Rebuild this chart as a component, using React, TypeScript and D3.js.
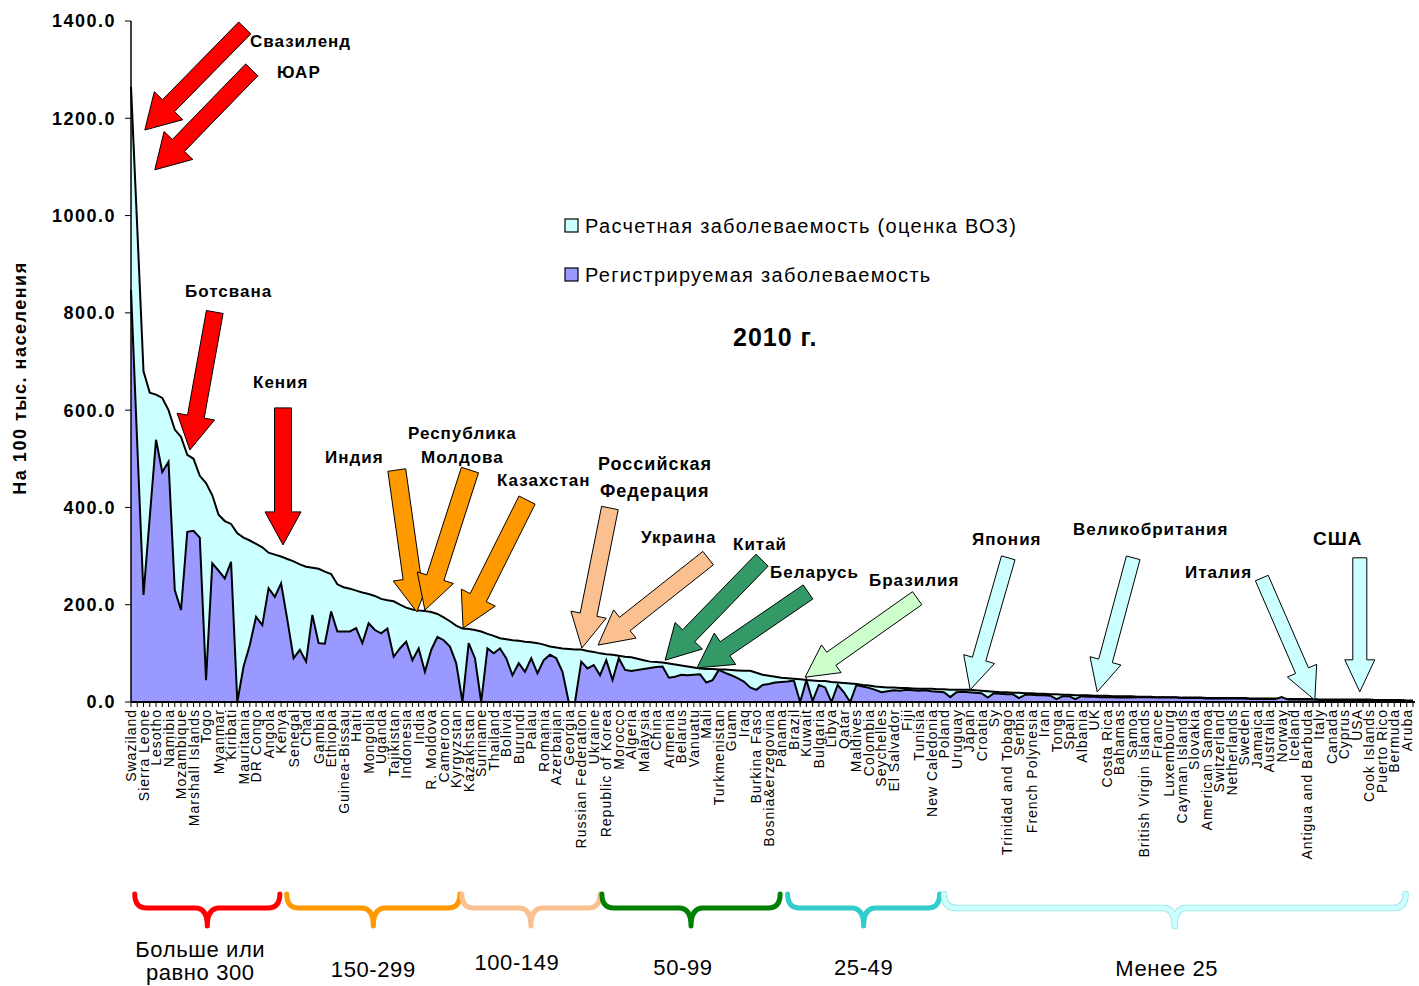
import React from "react";
import * as d3 from "d3";

// ---------- DATA ----------
// x-axis labels (shown for every second category)
const axisLabels = [
  "Swaziland","Sierra Leone","Lesotho","Namibia","Mozambique","Marshall Islands","Togo","Myanmar","Kiribati","Mauritania",
  "DR Congo","Angola","Kenya","Senegal","Chad","Gambia","Ethiopia","Guinea-Bissau","Haiti","Mongolia",
  "Uganda","Tajikistan","Indonesia","India","R. Moldova","Cameroon","Kyrgyzstan","Kazakhstan","Suriname","Thailand",
  "Bolivia","Burundi","Palau","Romania","Azerbaijan","Georgia","Russian Federation","Ukraine","Republic of Korea","Morocco",
  "Algeria","Malaysia","China","Armenia","Belarus","Vanuatu","Mali","Turkmenistan","Guam","Iraq",
  "Burkina Faso","Bosnia&erzegovina","Panama","Brazil","Kuwait","Bulgaria","Libya","Qatar","Maldives","Colombia",
  "Seychelles","El Salvador","Fiji","Tunisia","New Caledonia","Poland","Uruguay","Japan","Croatia","Sy",
  "Trinidad and Tobago","Serbia","French Polynesia","Iran","Tonga","Spain","Albania","UK","Costa Rica","Bahamas",
  "Samoa","British Virgin Islands","France","Luxembourg","Cayman Islands","Slovakia","American Samoa","Switzerland","Netherlands","Sweden",
  "Jamaica","Australia","Norway","Iceland","Antigua and Barbuda","Italy","Canada","Cyprus","USA","Cook Islands",
  "Puerto Rico","Bermuda","Aruba"
];

// Estimated incidence (WHO), per 100 000
const estimated = [
  1265,975,680,636,632,625,600,560,545,508,500,465,450,425,385,372,366,347,338,332,
  325,318,307,303,299,294,289,283,278,276,274,268,263,242,236,233,229,225,222,218,
  212,209,207,200,194,190,188,187,185,181,174,166,157,151,150,148,145,140,136,131,
  129,127,126,124,123,121,118,114,112,110,109,108,108,105,103,100,98,97,95,93,
  92,89,86,83,82,81,79,77,75,73,71,69,68,68,67,67,66,65,64,64,
  60,56,54,52,50,49,48,47,45,44,43,43,41,40,39,38,37,35,34,32,
  31,30,30,29,29,28,27,27,27,26,26,25,25,25,25,24,23,22,21,20,
  20,19,19,18,18,17,17,16,16,15,15,14,14,14,13,13,13,12,12,12,
  12,11,11,11,10,10,10,10,9,9,9,9,8,8,8,8,8,8,8,7,
  7,7,7,7,6,6,6,6,6,6,5,5,5,5,5,5,5,5,5,4,
  4,4,4,4,3,3
];

// Registered incidence, per 100 000
const registered = [
  847,530,220,380,539,473,494,230,189,350,352,338,45,285,270,254,288,0,73,117,
  175,158,234,216,244,169,90,107,83,179,121,120,186,145,145,145,152,121,162,148,
  141,151,93,110,124,86,110,62,107,134,127,114,80,0,121,90,0,110,100,110,
  90,55,80,62,90,59,86,97,90,62,0,0,83,69,76,55,86,45,90,66,
  64,66,68,70,72,73,50,52,56,55,56,57,40,45,66,60,55,49,42,30,
  25,35,37,40,41,42,44,0,45,2,35,30,0,35,20,0,35,32,29,25,
  20,22,24,23,25,24,23,24,22,21,20,10,20,21,20,19,18,9,18,17,
  16,16,8,15,15,14,14,13,6,12,12,6,12,11,11,10,10,10,9,9,
  9,10,10,10,9,9,9,9,8,8,8,8,7,7,7,7,7,7,7,6,
  6,6,6,6,10,5,5,5,5,5,4,4,4,4,4,4,4,4,4,3,
  3,3,3,3,2,2
];

const yTicks = [0, 200, 400, 600, 800, 1000, 1200, 1400];

const legendItems = [
  { label: "Расчетная заболеваемость (оценка ВОЗ)", color: "#ccffff" },
  { label: "Регистрируемая заболеваемость", color: "#9999ff" },
];

// annotation arrows: tip in data coords (category index, value); tail offset in px
const arrows = [
  { tipI: 2.2, tipV: 1176, dx: 100, dy: -102, color: "#ff0000", sw: 17, hw: 40, hl: 34 },
  { tipI: 3.8, tipV: 1094, dx: 97, dy: -100, color: "#ff0000", sw: 17, hw: 40, hl: 34 },
  { tipI: 9.4, tipV: 518, dx: 25, dy: -138, color: "#ff0000", sw: 17, hw: 38, hl: 34 },
  { tipI: 24.3, tipV: 323, dx: 0, dy: -137, color: "#ff0000", sw: 17, hw: 36, hl: 33 },
  { tipI: 45.7, tipV: 185, dx: -20, dy: -142, color: "#ff9900", sw: 18, hw: 38, hl: 34 },
  { tipI: 47.0, tipV: 189, dx: 45, dy: -140, color: "#ff9900", sw: 18, hw: 38, hl: 34 },
  { tipI: 53.1, tipV: 152, dx: 64, dy: -128, color: "#ff9900", sw: 18, hw: 38, hl: 34 },
  { tipI: 72.1, tipV: 111, dx: 28, dy: -140, color: "#fac090", sw: 17, hw: 36, hl: 34 },
  { tipI: 74.7, tipV: 117, dx: 110, dy: -87, color: "#fac090", sw: 17, hw: 36, hl: 34 },
  { tipI: 85.4, tipV: 86, dx: 97, dy: -100, color: "#339966", sw: 17, hw: 38, hl: 34 },
  { tipI: 90.5, tipV: 70, dx: 111, dy: -76, color: "#339966", sw: 17, hw: 38, hl: 34 },
  { tipI: 107.8, tipV: 51, dx: 112, dy: -79, color: "#ccffcc", sw: 16, hw: 34, hl: 32 },
  { tipI: 134.2, tipV: 25, dx: 38, dy: -132, color: "#ccffff", sw: 14, hw: 32, hl: 32 },
  { tipI: 154.5, tipV: 21, dx: 36, dy: -134, color: "#ccffff", sw: 14, hw: 32, hl: 32 },
  { tipI: 189.3, tipV: 4, dx: -53, dy: -122, color: "#ccffff", sw: 14, hw: 32, hl: 32 },
  { tipI: 196.5, tipV: 21, dx: 0, dy: -134, color: "#ccffff", sw: 14, hw: 30, hl: 32 },
];

// annotation captions
const captions = [
  { text: "Свазиленд", x: 250, y: 47, weight: 700, size: 17 },
  { text: "ЮАР", x: 277, y: 78, weight: 700, size: 17 },
  { text: "Ботсвана", x: 185, y: 297, weight: 700, size: 17 },
  { text: "Кения", x: 253, y: 388, weight: 700, size: 17 },
  { text: "Индия", x: 325, y: 463, weight: 700, size: 17 },
  { text: "Республика", x: 408, y: 439, weight: 700, size: 17 },
  { text: "Молдова", x: 421, y: 463, weight: 700, size: 17 },
  { text: "Казахстан", x: 497, y: 486, weight: 700, size: 17 },
  { text: "Российская", x: 598, y: 470, weight: 900, size: 18 },
  { text: "Федерация", x: 600, y: 497, weight: 900, size: 18 },
  { text: "Украина", x: 641, y: 543, weight: 700, size: 17 },
  { text: "Китай", x: 733, y: 550, weight: 700, size: 17 },
  { text: "Беларусь", x: 770, y: 578, weight: 700, size: 17 },
  { text: "Бразилия", x: 869, y: 586, weight: 700, size: 17 },
  { text: "Япония", x: 972, y: 545, weight: 700, size: 17 },
  { text: "Великобритания", x: 1073, y: 535, weight: 700, size: 17 },
  { text: "Италия", x: 1185, y: 578, weight: 700, size: 17 },
  { text: "США", x: 1313, y: 545, weight: 900, size: 19 },
];

// incidence groups (category index ranges)
const groups = [
  { from: 0.6, to: 23.8, color: "#ff0000", lines: ["Больше или", "равно 300"] },
  { from: 24.9, to: 52.6, color: "#ff9900", lines: ["150-299"] },
  { from: 52.9, to: 75.0, color: "#fac090", lines: ["100-149"] },
  { from: 75.3, to: 103.8, color: "#008000", lines: ["50-99"] },
  { from: 105.0, to: 129.3, color: "#33cccc", lines: ["25-49"] },
  { from: 130.0, to: 203.8, color: "#ccffff", lines: ["Менее 25"] },
];

// ---------- CHART ----------
const W = 1419;
const H = 986;
const FONT = "'Liberation Sans', Arial, sans-serif";
const groupBaselines = [957, 977, 970, 975, 975, 976];
const groupShift = [0, 0, -14, -8, 0, -8];

function arrowPath(x1: number, y1: number, x2: number, y2: number, sw: number, hw: number, hl: number) {
  const dx = x2 - x1, dy = y2 - y1;
  const L = Math.hypot(dx, dy);
  const ux = dx / L, uy = dy / L;
  const px = -uy, py = ux;
  const bx = x2 - ux * hl, by = y2 - uy * hl;
  const pts = [
    [x1 + px * sw / 2, y1 + py * sw / 2],
    [bx + px * sw / 2, by + py * sw / 2],
    [bx + px * hw / 2, by + py * hw / 2],
    [x2, y2],
    [bx - px * hw / 2, by - py * hw / 2],
    [bx - px * sw / 2, by - py * sw / 2],
    [x1 - px * sw / 2, y1 - py * sw / 2],
  ];
  return "M" + pts.map((p) => p[0].toFixed(1) + "," + p[1].toFixed(1)).join("L") + "Z";
}

function bracePath(x1: number, x2: number, y0: number) {
  const xm = (x1 + x2) / 2;
  const h1 = 14, h2 = 18, r = 12;
  const ym = y0 + h1;
  return [
    `M${x1},${y0}`,
    `Q${x1},${ym} ${x1 + r},${ym}`,
    `L${xm - r},${ym}`,
    `Q${xm},${ym} ${xm},${ym + h2}`,
    `Q${xm},${ym} ${xm + r},${ym}`,
    `L${x2 - r},${ym}`,
    `Q${x2},${ym} ${x2},${y0}`,
  ].join(" ");
}

export default function App() {
  const n = estimated.length;
  const x = d3.scaleLinear().domain([0, n - 1]).range([131, 1413]);
  const y = d3.scaleLinear().domain([0, 1400]).range([702, 21]);

  const area = d3
    .area<number>()
    .x((_, i) => x(i))
    .y0(y(0))
    .y1((d) => y(d));
  const line = d3
    .line<number>()
    .x((_, i) => x(i))
    .y((d) => y(d));

  const fmt = d3.format(".1f");

  return (
    <svg
      width={W}
      height={H}
      viewBox={`0 0 ${W} ${H}`}
      style={{ position: "absolute", left: 0, top: 0, display: "block", background: "#fff" }}
      fontFamily={FONT}
    >
      {/* areas */}
      <path d={area(estimated) || ""} fill="#ccffff" />
      <path d={line(estimated) || ""} fill="none" stroke="#000" strokeWidth={2} />
      <path d={area(registered) || ""} fill="#9999ff" />
      <path d={line(registered) || ""} fill="none" stroke="#000" strokeWidth={2} />

      {/* y axis */}
      <line x1={131} x2={131} y1={y(1400)} y2={y(0)} stroke="#000" strokeWidth={1.5} />
      {yTicks.map((t) => (
        <g key={t}>
          <line x1={125} x2={131} y1={y(t)} y2={y(t)} stroke="#000" strokeWidth={1} />
          <text x={116} y={y(t)} dy="0.36em" textAnchor="end" fontSize={18} fontWeight={700} letterSpacing={1.5}>
            {fmt(t)}
          </text>
        </g>
      ))}
      <text
        transform={`translate(26, ${378}) rotate(-90)`}
        textAnchor="middle"
        fontSize={18}
        fontWeight={700}
        letterSpacing={1.5}
      >
        На 100 тыс. населения
      </text>

      {/* x axis */}
      <line x1={131} x2={1415} y1={y(0)} y2={y(0)} stroke="#000" strokeWidth={2} />
      {d3.range(n).map((i) => (
        <line key={i} x1={x(i)} x2={x(i)} y1={y(0)} y2={y(0) + 5} stroke="#000" strokeWidth={1} />
      ))}
      {axisLabels.map((lab, k) => (
        <text
          key={lab + k}
          transform={`translate(${x(k * 2)}, ${709}) rotate(-90)`}
          dy="0.36em"
          textAnchor="end"
          fontSize={14}
          letterSpacing={1}
        >
          {lab}
        </text>
      ))}

      {/* legend */}
      {legendItems.map((it, k) => (
        <g key={it.label} transform={`translate(565, ${219 + k * 49})`}>
          <rect x={0} y={0} width={13} height={13} fill={it.color} stroke="#000" strokeWidth={1.2} />
          <text x={20} y={7} dy="0.36em" fontSize={20} letterSpacing={1.3}>
            {it.label}
          </text>
        </g>
      ))}
      <text x={733} y={346} fontSize={25} fontWeight={700} letterSpacing={1}>
        2010 г.
      </text>

      {/* arrows */}
      {arrows.map((a, k) => {
        const tx = x(a.tipI), ty = y(a.tipV);
        return (
          <path
            key={k}
            d={arrowPath(tx + a.dx, ty + a.dy, tx, ty, a.sw, a.hw, a.hl)}
            fill={a.color}
            stroke="#000"
            strokeWidth={1}
          />
        );
      })}
      {captions.map((c) => (
        <text key={c.text} x={c.x} y={c.y} fontSize={c.size} fontWeight={c.weight} letterSpacing={1}>
          {c.text}
        </text>
      ))}

      {/* group braces */}
      {groups.map((g, k) => {
        const x1 = x(g.from), x2 = x(g.to);
        const xm = (x1 + x2) / 2;
        const d = bracePath(x1, x2, 894);
        return (
          <g key={k}>
            {k === groups.length - 1 && (
              <path d={d} fill="none" stroke="#99dede" strokeWidth={6.5} strokeLinecap="round" strokeLinejoin="round" />
            )}
            <path d={d} fill="none" stroke={g.color} strokeWidth={5} strokeLinecap="round" strokeLinejoin="round" />
            {g.lines.map((ln, j) => (
              <text
                key={ln}
                x={xm + groupShift[k] - (k === 0 ? 7 : 0)}
                y={groupBaselines[k] + j * 23}
                textAnchor="middle"
                fontSize={22}
                letterSpacing={0.6}
              >
                {ln}
              </text>
            ))}
          </g>
        );
      })}
    </svg>
  );
}
